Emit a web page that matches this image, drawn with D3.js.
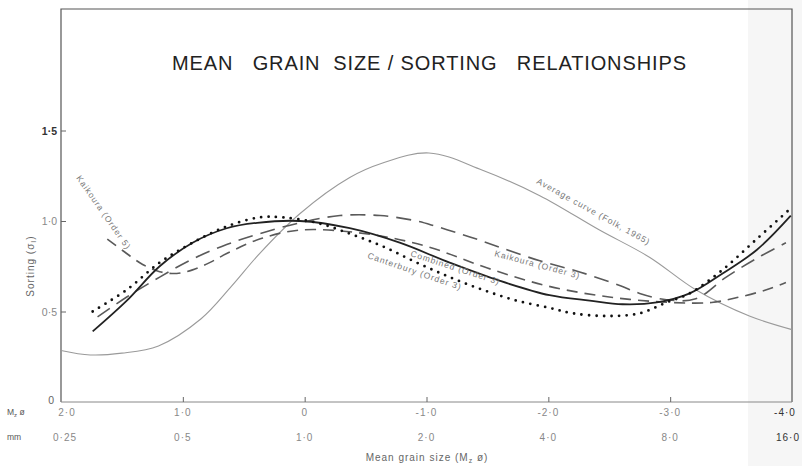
<!DOCTYPE html>
<html>
<head>
<meta charset="utf-8">
<script src="https://cdn.jsdelivr.net/npm/d3@7"></script>
<style>
  body { margin: 0; background: #fff; }
  svg { display: block; }
  text { font-family: "Liberation Sans", Arial, sans-serif; }
</style>
</head>
<body>
<svg id="vis-svg" width="802" height="466"></svg>
<script>
// chart values (x in Mz phi, y in sorting)
var avgPhi  = [2.0, 1.76, 1.5, 1.2, 0.85, 0.6, 0.37, 0.04, -0.37, -0.64, -1.02, -1.46, -1.93, -2.42, -2.83, -3.21, -3.65, -4.0];
var avgSort = [0.285, 0.26, 0.27, 0.31, 0.46, 0.64, 0.82, 1.04, 1.24, 1.32, 1.376, 1.28, 1.14, 0.95, 0.80, 0.62, 0.475, 0.40];

var combPhi  = [1.74, 1.46, 1.19, 0.92, 0.64, 0.39, 0.04, -0.37, -0.78, -1.19, -1.6, -2.01, -2.34, -2.61, -2.89, -3.16, -3.43, -3.71, -3.99];
var combSort = [0.39, 0.56, 0.75, 0.88, 0.96, 0.99, 1.0, 0.96, 0.88, 0.77, 0.67, 0.59, 0.56, 0.54, 0.55, 0.60, 0.71, 0.84, 1.03];

var cantPhi  = [1.74, 1.46, 1.19, 0.92, 0.64, 0.37, 0.18, -0.1, -0.37, -0.64, -0.92, -1.19, -1.46, -1.74, -2.01, -2.2, -2.48, -2.75, -2.97, -3.16, -3.43, -3.71, -3.99];
var cantSort = [0.50, 0.62, 0.77, 0.88, 0.97, 1.02, 1.02, 0.99, 0.93, 0.86, 0.77, 0.69, 0.62, 0.56, 0.52, 0.49, 0.475, 0.49, 0.55, 0.60, 0.73, 0.90, 1.07];

var k3Phi  = [1.7, 1.46, 1.19, 0.92, 0.64, 0.37, 0.04, -0.29, -0.62, -0.92, -1.08, -1.25, -1.41, -1.6, -1.93, -2.25, -2.58, -2.75, -2.97, -3.21, -3.46, -3.7, -3.95];
var k3Sort = [0.47, 0.58, 0.69, 0.79, 0.87, 0.93, 0.99, 1.03, 1.03, 1.0, 0.97, 0.935, 0.90, 0.855, 0.78, 0.72, 0.645, 0.60, 0.565, 0.57, 0.69, 0.79, 0.88];

var k5Phi  = [1.62, 1.48, 1.33, 1.19, 1.05, 0.92, 0.78, 0.64, 0.37, 0.04, -0.5, -1.0, -1.5, -2.0, -2.5, -3.0, -3.34, -3.57, -3.79, -3.95];
var k5Sort = [0.90, 0.83, 0.76, 0.72, 0.71, 0.73, 0.77, 0.82, 0.90, 0.95, 0.93, 0.86, 0.74, 0.64, 0.58, 0.55, 0.55, 0.58, 0.62, 0.66];

var phiTicks = [2, 1, 0, -1, -2, -3, -4];
var phiLabels = ["2·0", "1·0", "0", "-1·0", "-2·0", "-3·0", "-4·0"];
var mmLabels = ["0·25", "0·5", "1·0", "2·0", "4·0", "8·0", "16·0"];
var sortTicks = [0.5, 1.0, 1.5];
var sortLabels = ["0·5", "1·0", "1·5"];

var margin = {top: 9, right: 10, bottom: 64, left: 61};
var width = 802, height = 466;
var plotW = 731;

var svg = d3.select("#vis-svg");

// scanned page shade on the right edge
svg.append("rect")
  .attr("x", 748).attr("y", 0).attr("width", 54).attr("height", height)
  .style("fill", "#f6f6f6");

var x = d3.scaleLinear().domain([2, -4]).range([margin.left, margin.left + plotW]);
var y = d3.scaleLinear().domain([0, 1.5]).range([402, 130.5]);

// frame
svg.append("path")
  .attr("d", "M" + x(2) + "," + y(0) + "V" + margin.top + "H" + x(-4) + "V" + y(0))
  .style("fill", "none").style("stroke", "#555").style("stroke-width", 1.2);

var xAxis = svg.append("g")
  .attr("transform", "translate(0," + y(0) + ")")
  .call(d3.axisTop(x).tickValues([1, 0, -1, -2, -3]).tickSize(5).tickFormat(""));
xAxis.select(".domain").attr("d", "M" + x(2) + ",0H" + x(-4)).style("stroke", "#888");
xAxis.selectAll(".tick line").style("stroke", "#666");

var yAxis = svg.append("g")
  .attr("transform", "translate(" + x(2) + ",0)")
  .call(d3.axisRight(y).tickValues(sortTicks).tickSize(5).tickFormat(""));
yAxis.select(".domain").remove();
yAxis.selectAll(".tick line").style("stroke", "#666");

// y tick labels
svg.selectAll(".ylab")
  .data(sortTicks)
  .enter()
  .append("text")
  .attr("x", 57)
  .attr("y", function(d){ return y(d) + 4; })
  .attr("text-anchor", "end")
  .style("font-size", "10.5px")
  .style("fill", function(d){ return d == 1.5 ? "#333" : "#888"; })
  .style("font-weight", function(d){ return d == 1.5 ? "bold" : "normal"; })
  .text(function(d, i){ return sortLabels[i]; });
svg.append("text").attr("x", 54).attr("y", y(0) + 2).attr("text-anchor", "end")
  .style("font-size", "10.5px").style("fill", "#666").text("0");

// x tick labels, two rows
svg.selectAll(".xlab")
  .data(phiTicks)
  .enter()
  .append("text")
  .attr("x", function(d){ return x(d) + (d == 2 ? 6 : (d == -4 ? -7 : 0)); })
  .attr("y", 416)
  .attr("text-anchor", "middle")
  .style("font-size", "10px")
  .style("letter-spacing", "1px")
  .style("fill", function(d){ return d == -4 ? "#333" : "#888"; })
  .text(function(d, i){ return phiLabels[i]; });

svg.selectAll(".mmlab")
  .data(phiTicks)
  .enter()
  .append("text")
  .attr("x", function(d){ return x(d) + (d == 2 ? 4 : (d == -4 ? -4 : 0)); })
  .attr("y", 441)
  .attr("text-anchor", "middle")
  .style("font-size", "10px")
  .style("letter-spacing", "1px")
  .style("fill", function(d){ return d == -4 ? "#333" : "#888"; })
  .text(function(d, i){ return mmLabels[i]; });

svg.append("text").attr("x", 7).attr("y", 415).style("font-size", "8.5px").style("fill", "#555")
  .html("M<tspan font-size='6px' dy='2'>z</tspan><tspan dy='-2'> ø</tspan>");
svg.append("text").attr("x", 7).attr("y", 440).style("font-size", "8.5px").style("fill", "#555").text("mm");

// axis titles
svg.append("text")
  .attr("x", 427).attr("y", 461)
  .attr("text-anchor", "middle")
  .style("font-size", "10px").style("letter-spacing", "1px").style("fill", "#666")
  .html("Mean  grain  size (M<tspan font-size='7px' dy='2'>z</tspan><tspan dy='-2'> ø)</tspan>");

svg.append("text")
  .attr("transform", "translate(34,266) rotate(-90)")
  .attr("text-anchor", "middle")
  .style("font-size", "10px").style("letter-spacing", "1px").style("fill", "#666")
  .html("Sorting (σ<tspan font-size='7px' dy='2'>I</tspan><tspan dy='-2'>)</tspan>");

// title
svg.append("text")
  .attr("x", 172).attr("y", 70)
  .attr("textLength", 514)
  .attr("lengthAdjust", "spacing")
  .style("font-size", "20px")
  .style("fill", "#222")
  .style("white-space", "pre")
  .text("MEAN   GRAIN  SIZE / SORTING   RELATIONSHIPS");

function pts(px, py){
  return px.map(function(d, i){ return [d, py[i]]; });
}

var line = d3.line()
  .x(function(d){ return x(d[0]); })
  .y(function(d){ return y(d[1]); })
  .curve(d3.curveCatmullRom.alpha(0.5));

// average curve (Folk)
svg.append("path").datum(pts(avgPhi, avgSort))
  .attr("d", line)
  .style("fill", "none").style("stroke", "#9a9a9a").style("stroke-width", 1.1);

// Kaikoura order 5
svg.append("path").datum(pts(k5Phi, k5Sort))
  .attr("d", line)
  .style("fill", "none").style("stroke", "#5a5a5a").style("stroke-width", 1.6)
  .style("stroke-dasharray", "11,7");

// Kaikoura order 3
svg.append("path").datum(pts(k3Phi, k3Sort))
  .attr("d", line)
  .style("fill", "none").style("stroke", "#5a5a5a").style("stroke-width", 1.6)
  .style("stroke-dasharray", "15,8");

// combined
svg.append("path").datum(pts(combPhi, combSort))
  .attr("d", line)
  .style("fill", "none").style("stroke", "#222").style("stroke-width", 1.8);

// canterbury dotted
svg.append("path").datum(pts(cantPhi, cantSort))
  .attr("d", line)
  .style("fill", "none").style("stroke", "#111").style("stroke-width", 2.8)
  .style("stroke-linecap", "round")
  .style("stroke-dasharray", "0,7.5");

// curve labels
function curveLabel(tx, ty, ang, txt){
  svg.append("text")
    .attr("transform", "translate(" + tx + "," + ty + ") rotate(" + ang + ")")
    .style("font-size", "8.5px")
    .style("letter-spacing", "1px")
    .style("fill", "#777")
    .text(txt);
}
curveLabel(76, 178, 55, "Kaikoura (Order 5)");
curveLabel(536, 183, 29, "Average  curve (Folk, 1965)");
curveLabel(494, 256, 15, "Kaikoura (Order 3)");
curveLabel(410, 256, 18, "Combined (Order 3)");
curveLabel(367, 258, 19, "Canterbury (Order 3)");
</script>
</body>
</html>
